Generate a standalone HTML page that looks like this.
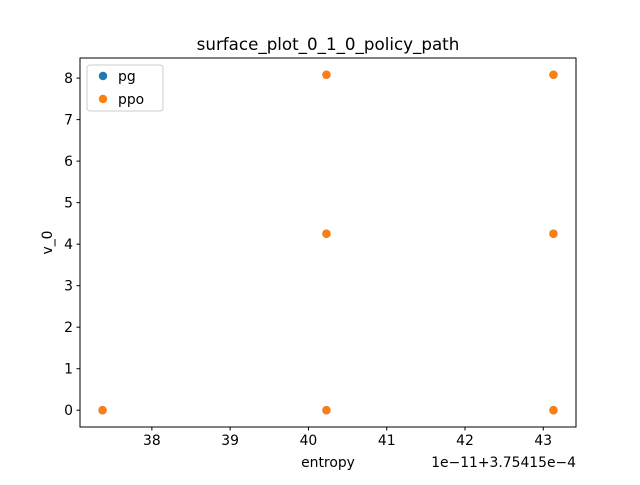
<!DOCTYPE html>
<html><head><meta charset="utf-8"><style>
body{margin:0;background:#fff}
svg text{font-family:"DejaVu Sans","Liberation Sans",sans-serif;fill:#000}
</style></head><body>
<svg id="chart" width="640" height="480" xmlns="http://www.w3.org/2000/svg">
<rect x="0" y="0" width="640" height="480" fill="#fff"/>
<text x="328" y="50" font-size="16.7" text-anchor="middle">surface_plot_0_1_0_policy_path</text>
<g id="axes"></g>
<g id="marks"></g>
<rect x="80" y="58" width="496" height="369" fill="none" stroke="#000" stroke-width="1"/>
<text x="328" y="467" font-size="13.9" text-anchor="middle">entropy</text>
<text x="576" y="467" font-size="13.9" text-anchor="end">1e−11+3.75415e−4</text>
<text transform="translate(52,242.5) rotate(-90)" font-size="13.9" text-anchor="middle">v_0</text>
<g>
<rect x="87" y="65" width="76" height="46" rx="3" fill="#fff" fill-opacity="0.8" stroke="#ccc"/>
<g><circle cx="103" cy="76" r="4.2" fill="#1f77b4"/><text x="118" y="81" font-size="13.9">pg</text></g>
<g><circle cx="103" cy="99" r="4.2" fill="#ff7f0e"/><text x="118" y="104" font-size="13.9">ppo</text></g>
</g>
</svg>
<script>
const xTicks=[38,39,40,41,42,43];
const yTicks=[0,1,2,3,4,5,6,7,8];
const pgX=[37.37,40.23,40.23,40.23,43.13,43.13,43.13];
const pgY=[0,0,4.25,8.08,0,4.25,8.08];
const ppoX=[37.37,40.23,40.23,40.23,43.13,43.13,43.13];
const ppoY=[0,0,4.25,8.08,0,4.25,8.08];
const NS="http://www.w3.org/2000/svg";
const all=pgX.concat(ppoX), allY=pgY.concat(ppoY);
let xmin=Math.min(...all),xmax=Math.max(...all),ymin=Math.min(...allY),ymax=Math.max(...allY);
const dx=(xmax-xmin)*0.05||1,dy=(ymax-ymin)*0.05||1;
xmin-=dx;xmax+=dx;ymin-=dy;ymax+=dy;
const L=80,R=576,T=58,B=427;
const sx=v=>L+(v-xmin)/(xmax-xmin)*(R-L);
const sy=v=>B-(v-ymin)/(ymax-ymin)*(B-T);
const axes=document.getElementById('axes'),marks=document.getElementById('marks');
function mk(t,a,p){const e=document.createElementNS(NS,t);for(const k in a)e.setAttribute(k,a[k]);p.appendChild(e);return e;}
xTicks.forEach(v=>{const x=sx(v);
const l=mk('line',{x1:x,x2:x,y1:B,y2:B+3.5,stroke:'#000'},axes);


const t=mk('text',{x:x,y:B+18,'font-size':13.9,'text-anchor':'middle'},axes);t.textContent=v;

});
yTicks.forEach(v=>{const y=sy(v);
const l=mk('line',{x1:L-3.5,x2:L,y1:y,y2:y,stroke:'#000'},axes);


const t=mk('text',{x:L-7,y:y+5,'font-size':13.9,'text-anchor':'end'},axes);t.textContent=v;

});
pgX.forEach((v,i)=>{const c=mk('circle',{cx:sx(v),cy:sy(pgY[i]),r:4.2,fill:'#1f77b4'},marks);

});
ppoX.forEach((v,i)=>{const c=mk('circle',{cx:sx(v),cy:sy(ppoY[i]),r:4.2,fill:'#ff7f0e'},marks);

});
</script>
</body></html>
